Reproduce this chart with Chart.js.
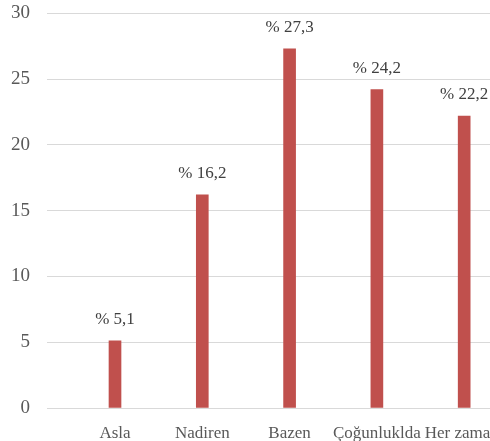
<!DOCTYPE html>
<html>
<head>
<meta charset="utf-8">
<script src="https://cdn.jsdelivr.net/npm/chart.js@4/dist/chart.umd.min.js"></script>
<style>
html,body{margin:0;padding:0;overflow:hidden;background:#fff;width:490px;height:441px;}
#wrap{position:absolute;left:0;top:0;width:530px;height:441px;}
</style>
</head>
<body>
<div id="wrap"><canvas id="c" width="530" height="441"></canvas></div>
<script>
const categories = ["Asla", "Nadiren", "Bazen", "Çoğunluklda", "Her zamanı"];
const values = [5.1, 16.2, 27.3, 24.2, 22.2];
const yTicks = [0, 5, 10, 15, 20, 25, 30];

const FONT = "'Liberation Serif', 'Times New Roman', serif";

const labelPlugin = {
  id: 'valueLabels',
  afterDatasetsDraw(chart) {
    const ctx = chart.ctx;
    const meta = chart.getDatasetMeta(0);
    ctx.save();
    ctx.font = "17px " + FONT;
    ctx.fillStyle = "#404040";
    ctx.textAlign = "center";
    ctx.textBaseline = "middle";
    meta.data.forEach((bar, i) => {
      const txt = "% " + values[i].toFixed(1).replace('.', ',');
      ctx.fillText(txt, bar.x, bar.y - 21);
    });
    ctx.restore();
  }
};

new Chart(document.getElementById('c'), {
  type: 'bar',
  data: {
    datasets: [{
      data: categories.map((c, i) => ({ x: i, y: values[i] })),
      backgroundColor: '#C0504D',
      barThickness: 12
    }]
  },
  options: {
    responsive: false,
    animation: false,
    layout: { padding: { top: 0, left: 0, right: 0, bottom: 0 } },
    plugins: { legend: { display: false }, tooltip: { enabled: false } },
    scales: {
      x: {
        type: 'linear',
        offset: false,
        min: -0.779,
        max: 4.754,
        grid: { display: false },
        border: { display: false },
        afterBuildTicks: s => { s.ticks = categories.map((_, i) => ({ value: i })); },
        afterFit: s => { s.height = 33; },
        ticks: {
          autoSkip: false,
          maxRotation: 0,
          padding: 7,
          color: '#595959',
          font: { family: FONT, size: 17 },
          callback: v => categories[v] ?? ''
        }
      },
      y: {
        min: 0,
        max: 30,
        afterBuildTicks: s => { s.ticks = yTicks.map(v => ({ value: v })); },
        afterFit: s => { s.width = 47; },
        grid: { color: '#d9d9d9', drawTicks: true, tickLength: 15, tickColor: 'rgba(0,0,0,0)', lineWidth: 1 },
        border: { display: false },
        ticks: {
          padding: 2,
          color: '#595959',
          font: { family: FONT, size: 19 }
        }
      }
    }
  },
  plugins: [labelPlugin]
});
</script>
</body>
</html>
